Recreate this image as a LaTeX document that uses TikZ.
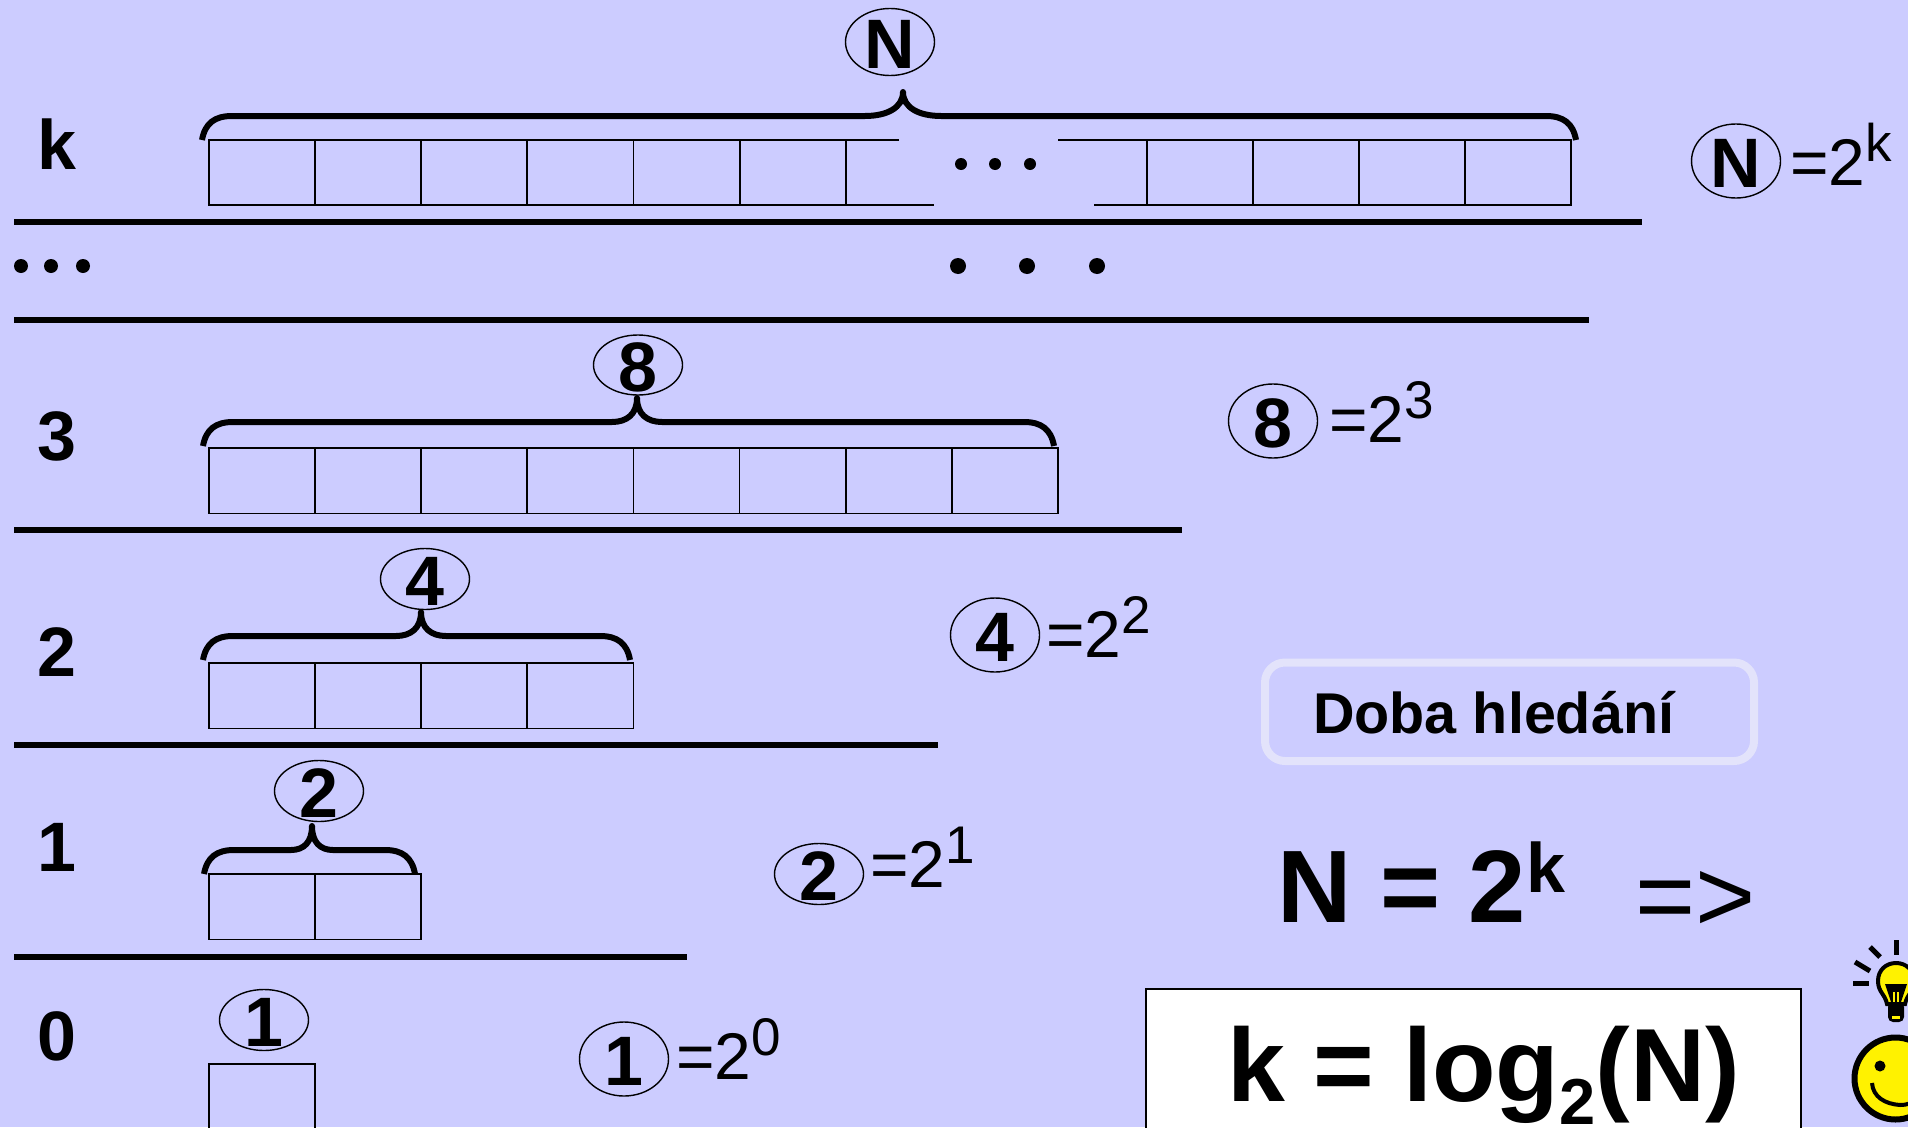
\documentclass[tikz,border=0pt]{standalone}
\usepackage{fontspec}
\setmainfont{Liberation Sans}
\usetikzlibrary{shapes.geometric}
\definecolor{pagebg}{HTML}{CCCCFF}
\definecolor{framelight}{HTML}{E3E3FB}
\newcommand{\fs}[1]{\fontsize{#1}{#1}\selectfont}
\newcommand{\ovaltext}[1]{\raisebox{-26.5pt}[0pt][0pt]{#1}}
\tikzset{
  cellline/.style={line width=1.8pt},
  rule/.style={line width=5.5pt},
  bracket/.style={line width=6pt},
  countoval/.style={draw,ellipse,line width=1.4pt,inner sep=0pt,minimum width=89pt,font=\fs{70}\bfseries},
  levellabel/.style={anchor=base west,inner sep=0pt,font=\fs{70}\bfseries},
  powerlabel/.style={anchor=base west,inner sep=0pt,font=\fs{66}}
}
\begin{document}
\begin{tikzpicture}[x=1pt,y=-1pt]
\useasboundingbox (0,0) rectangle (1908,1127);
\clip (0,0) rectangle (1908,1127);
\fill[pagebg] (0,0) rectangle (1908,1127);

% rules between the levels
\foreach \y/\xend in {222/1642,320/1589,530/1182,745/938,957/687}
    \draw[rule] (14,\y) -- (\xend,\y);

% cells
\foreach \top/\n in {448/8,663/4,874/2,1064/1}
    \foreach \i in {1,...,\n}
        \draw[cellline] ({209+106.1*(\i-1)},\top) rectangle ({209+106.1*\i},\top+65.5);
\foreach \i in {1,...,5}
    \draw[cellline] ({209+106.1*(\i-1)},140) rectangle ({209+106.1*\i},205);
\foreach \i in {1,...,4}
    \draw[cellline] ({1147+106*(\i-1)},140) rectangle ({1147+106*\i},205);
\draw[cellline] (899,140) -- (740,140) -- (740,205) -- (934,205);
\draw[cellline] (846,140) -- (846,205);
\draw[cellline] (1058,140) -- (1147,140) -- (1147,205) -- (1094,205);

% braces
\foreach \xl/\xa/\xt/\xb/\xr/\y in {202/33/903/33/1576/116,203/20/637/20/1054/422,203/20/421/20/630/636,204/16/312/16/415/850}
{
    \draw[bracket] (\xl,\y+24) .. controls (\xl+3,\y+7) and (\xl+13,\y) .. (\xl+30,\y)
        -- (\xt-\xa-5,\y) .. controls (\xt-\xa/2,\y) and (\xt,\y-8) .. (\xt,\y-24)
        .. controls (\xt,\y-8) and (\xt+\xb/2,\y) .. (\xt+\xb+5,\y)
        -- (\xr-30,\y) .. controls (\xr-13,\y) and (\xr-3,\y+7) .. (\xr,\y+24);
    \fill (\xt,\y-24) circle (3);
}

% ovals over the braces
\node[countoval,minimum height=67pt] (ovalN) at (890,42) {\ovaltext{N}};
\node[countoval,minimum height=60pt] (oval8) at (638,365) {\ovaltext{8}};
\node[countoval,minimum height=61pt] (oval4) at (425,579) {\ovaltext{4}};
\node[countoval,minimum height=61pt] (oval2) at (319,791) {\ovaltext{2}};
\node[countoval,minimum height=61pt] (oval1) at (264,1020) {\ovaltext{1}};

% level numbers
\node[levellabel] (levelk) at (37,169) {k};
\node[levellabel] (level3) at (37,460) {3};
\node[levellabel] (level2) at (37,676) {2};
\node[levellabel] (level1) at (37,871) {1};
\node[levellabel] (level0) at (37,1060) {0};

% powers on the right
\node[countoval,minimum height=74pt] (sideN) at (1736,161) {\ovaltext{N}};
\node[countoval,minimum height=74pt] (side8) at (1273,421) {\ovaltext{8}};
\node[countoval,minimum height=74pt] (side4) at (995,635) {\ovaltext{4}};
\node[countoval,minimum height=61pt] (side2) at (819,874) {\ovaltext{2}};
\node[countoval,minimum height=74pt] (side1) at (624,1059) {\ovaltext{1}};
\node[powerlabel] (powerN) at (1790,185) {=2\raisebox{24pt}{\fs{53}k}};
\node[powerlabel] (power8) at (1329,442) {=2\raisebox{24pt}{\fs{53}3}};
\node[powerlabel] (power4) at (1046,657) {=2\raisebox{24pt}{\fs{53}2}};
\node[powerlabel] (power2) at (870,887) {=2\raisebox{24pt}{\fs{53}1}};
\node[powerlabel] (power1) at (676,1079) {=2\raisebox{24pt}{\fs{53}0}};

% dots
\foreach \x in {961,995,1030}
    \fill (\x,164) circle (6);
\foreach \x in {958,1027,1097}
    \fill (\x,266) circle (8);
\foreach \x in {21,51,83}
    \fill (\x,266) circle (7);

% right column
\draw[framelight,line width=8pt,rounded corners=20pt] (1265,662.5) rectangle (1754,761);
\node[anchor=base west,inner sep=0pt,font=\fs{57.5}\bfseries] (title) at (1313,733) {Doba hledání};
\node[anchor=base west,inner sep=0pt,font=\fs{103}\bfseries] (formula) at (1277,922) {N = 2\raisebox{30pt}{\fs{70}k}};
\node[anchor=base west,inner sep=0pt,font=\fs{103}] (implies) at (1635,931) {=>};
\draw[fill=white,line width=2.5pt] (1146,989) rectangle (1801,1140);
\node[anchor=base west,inner sep=0pt,font=\fs{104}\bfseries] (result) at (1227,1101) {k = log\raisebox{-23pt}{\fs{65}2}(N)};

% bulb
\foreach \xa/\ya/\xb/\yb in {1896/940/1896/955,1870/947/1880/957,1855/962/1870/971,1853/983/1869/983}
    \draw[line width=5pt] (\xa,\ya) -- (\xb,\yb);
\draw[fill=yellow,line width=4pt] (1887,1004) .. controls (1885,994) and (1878,992) .. (1878,981)
    .. controls (1878,970) and (1886,963) .. (1896,963)
    .. controls (1906,963) and (1914,970) .. (1914,981)
    .. controls (1914,992) and (1907,994) .. (1905,1004) -- cycle;
\fill[black,rounded corners=5pt] (1888,1002) rectangle (1904,1022);
\fill[yellow] (1892,1016) rectangle (1900,1019);
\fill[black] (1885,984) -- (1907,984) -- (1901,1002) -- (1891,1002) -- cycle;
\fill[yellow] (1893,992) rectangle (1895,1002);
\fill[yellow] (1897,992) rectangle (1899,1002);

% smiley
\draw[fill=yellow,line width=6pt] (1895.5,1078.5) circle (41);
\fill (1880,1066) circle (5.5);
\draw[line width=4pt] (1872,1083) .. controls (1873,1097) and (1885,1104) .. (1900,1105)
    .. controls (1908,1105) and (1915,1102) .. (1920,1098);
\end{tikzpicture}
\end{document}
